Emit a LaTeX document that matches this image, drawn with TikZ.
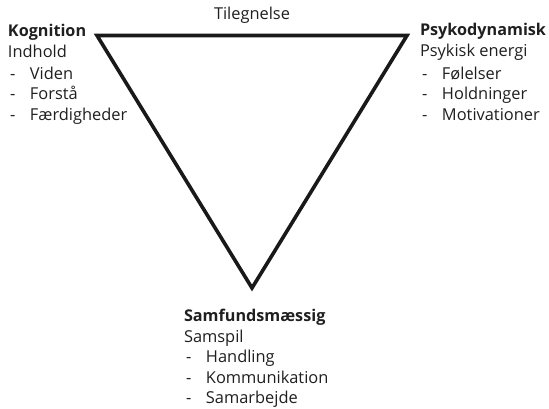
\documentclass[tikz,border=0pt]{standalone}
\usepackage{fontspec}
\setmainfont{Open Sans}
\begin{document}
\begin{tikzpicture}[x=1pt,y=-1pt,
  txt/.style={anchor=base west,inner sep=0pt,outer sep=0pt,font=\fontsize{16.4}{19}\selectfont,text=black!88},
  ttl/.style={txt,font=\fontsize{16.2}{19}\selectfont\bfseries},
  item/.style={txt},
  edge/.style={line width=3.6pt,draw=black!90,line join=miter}]
\useasboundingbox (0,0) rectangle (549,409);
\coordinate (tl) at (97,35.5);
\coordinate (tr) at (407,35.5);
\coordinate (bt) at (252,288);
\draw[edge] (tl) -- (tr) -- (bt) -- cycle;
\node[txt,anchor=base] (tileg) at (252,20) {Tilegnelse};
% left
\node[ttl] (kog) at (8,37) {Kognition};
\node[txt] (ind) at (8,58) {Indhold};
\node[item] (l1) at (10,79.5) {\makebox[20pt][l]{-}Viden};
\node[item] (l2) at (10,100) {\makebox[20pt][l]{-}Forstå};
\node[item] (l3) at (10,121) {\makebox[20pt][l]{-}Færdigheder};
% right
\node[ttl] (psy) at (420,36) {Psykodynamisk};
\node[txt] (pe) at (420,57) {Psykisk energi};
\node[item] (r1) at (422,79.5) {\makebox[20pt][l]{-}Følelser};
\node[item] (r2) at (422,100) {\makebox[20pt][l]{-}Holdninger};
\node[item] (r3) at (422,120.5) {\makebox[20pt][l]{-}Motivationer};
% bottom
\node[ttl] (sam) at (184,321) {Samfundsmæssig};
\node[txt] (ssp) at (184,342) {Samspil};
\node[item] (b1) at (186,362.5) {\makebox[20pt][l]{-}Handling};
\node[item] (b2) at (186,383) {\makebox[20pt][l]{-}Kommunikation};
\node[item] (b3) at (186,403.5) {\makebox[20pt][l]{-}Samarbejde};
\end{tikzpicture}
\end{document}
